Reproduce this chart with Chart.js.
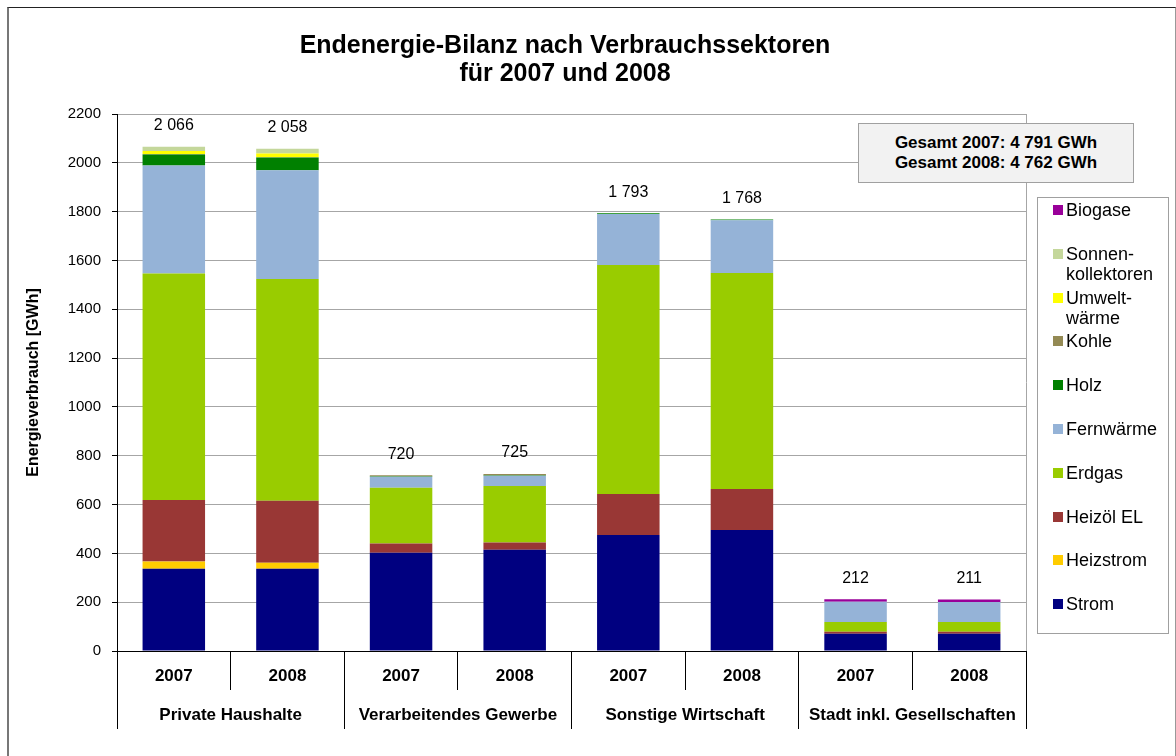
<!DOCTYPE html>
<html>
<head>
<meta charset="utf-8">
<script src="https://cdn.jsdelivr.net/npm/chart.js@4"></script>
<style>
    body { margin: 0; background: #fff; font-family: "Liberation Sans", Arial, sans-serif; }
    #wrap { position: relative; width: 1176px; height: 756px; overflow: hidden; }
    #frame { position: absolute; left: 7px; top: 7px; width: 1166px; height: 800px;
             border-top: 1px solid #222; border-left: 2px solid #777; border-right: 1px solid #999; }
    #title { position: absolute; left: 0; top: 30px; width: 1130px; text-align: center;
             font-weight: bold; font-size: 25px; line-height: 28px; color: #000; }
    #total { position: absolute; left: 858px; top: 123px; width: 274px; height: 58px;
             background: #f2f2f2; border: 1px solid #a0a0a0; text-align: center;
             font-weight: bold; font-size: 17px; line-height: 20px; }
    #total div:first-child { margin-top: 9px; }
    #legend { position: absolute; left: 1037px; top: 197px; width: 130px; height: 435px;
              border: 1px solid #a0a0a0; background: #fff; }
    .item { position: absolute; left: 0; font-size: 18px; line-height: 20px; }
    .item span.sw { position: absolute; left: 15px; top: 5px; width: 10px; height: 10px; }
    .item span.tx { position: absolute; left: 28px; top: 0; white-space: pre; }
</style>
</head>
<body>
<div id="wrap">
    <canvas id="chart" width="1176" height="756"></canvas>
    <div id="frame"></div>
    <div id="title">Endenergie-Bilanz nach Verbrauchssektoren<br>für 2007 und 2008</div>
    <div id="total"></div>
    <div id="legend"></div>
</div>
<script>
    /* Categories */
    const years = ['2007', '2008', '2007', '2008', '2007', '2008', '2007', '2008'];
    const groups = ['Private Haushalte', 'Verarbeitendes Gewerbe', 'Sonstige Wirtschaft', 'Stadt inkl. Gesellschaften'];

    /* Series values in GWh, bottom to top */
    const strom      = [337, 337, 403, 415, 475, 496, 71, 71];
    const heizstrom  = [30, 25, 0, 0, 0, 0, 0, 0];
    const heizoel    = [252, 254, 37, 30, 168, 168, 8, 8];
    const erdgas     = [928, 908, 229, 231, 938, 885, 40, 40];
    const fernwaerme = [442, 446, 45, 42, 209, 216, 83, 82];
    const holz       = [45, 52, 2, 2, 3, 3, 0, 0];
    const kohle      = [2, 1, 4, 5, 0, 0, 0, 0];
    const umwelt     = [12, 15, 0, 0, 0, 0, 0, 0];
    const sonnen     = [18, 20, 0, 0, 0, 0, 0, 0];
    const biogase    = [0, 0, 0, 0, 0, 0, 10, 10];

    /* Y axis ticks */
    const yMax = 2200;
    const yStep = 200;

    const series = [
        { label: 'Strom', legend: 'Strom', data: strom, color: '#000080' },
        { label: 'Heizstrom', legend: 'Heizstrom', data: heizstrom, color: '#FFCC00' },
        { label: 'Heizöl EL', legend: 'Heizöl EL', data: heizoel, color: '#993735' },
        { label: 'Erdgas', legend: 'Erdgas', data: erdgas, color: '#99CC00' },
        { label: 'Fernwärme', legend: 'Fernwärme', data: fernwaerme, color: '#95B3D7' },
        { label: 'Holz', legend: 'Holz', data: holz, color: '#008000' },
        { label: 'Kohle', legend: 'Kohle', data: kohle, color: '#948A54' },
        { label: 'Umweltwärme', legend: 'Umwelt-\nwärme', data: umwelt, color: '#FFFF00' },
        { label: 'Sonnenkollektoren', legend: 'Sonnen-\nkollektoren', data: sonnen, color: '#C4D79B' },
        { label: 'Biogase', legend: 'Biogase', data: biogase, color: '#990099' },
    ];

    const fmt = (n) => String(n).replace(/\B(?=(\d{3})+(?!\d))/g, ' ');
    const totals = years.map((_, i) => series.reduce((s, d) => s + d.data[i], 0));

    /* Gesamt box */
    const sum2007 = totals.filter((_, i) => years[i] === '2007').reduce((a, b) => a + b, 0);
    const sum2008 = totals.filter((_, i) => years[i] === '2008').reduce((a, b) => a + b, 0);
    document.getElementById('total').innerHTML =
        '<div>Gesamt 2007: ' + fmt(sum2007) + ' GWh</div><div>Gesamt 2008: ' + fmt(sum2008) + ' GWh</div>';

    /* Legend, top item is the top stack */
    const legendEl = document.getElementById('legend');
    series.slice().reverse().forEach((s, i) => {
        const item = document.createElement('div');
        item.className = 'item';
        item.style.top = (2 + i * 43.8) + 'px';
        item.innerHTML = '<span class="sw" style="background:' + s.color + '"></span><span class="tx"></span>';
        item.querySelector('.tx').textContent = s.legend;
        legendEl.appendChild(item);
    });

    // totals above the bars and the right edge of the plot area
    const extras = {
        id: 'extras',
        afterDatasetsDraw(chart) {
            const { ctx, chartArea, scales } = chart;
            ctx.save();
            ctx.strokeStyle = '#a6a6a6';
            ctx.lineWidth = 1;
            ctx.beginPath();
            ctx.moveTo(chartArea.right + 0.5, chartArea.top);
            ctx.lineTo(chartArea.right + 0.5, chartArea.bottom);
            ctx.stroke();
            ctx.fillStyle = '#000';
            ctx.font = '16px "Liberation Sans", Arial';
            ctx.textAlign = 'center';
            ctx.textBaseline = 'middle';
            totals.forEach((t, i) => {
                const x = scales.x.getPixelForValue(i);
                const y = scales.y.getPixelForValue(t);
                ctx.fillText(fmt(t), x, y - 21);
            });
            ctx.restore();
        },
    };

    const tickFont = { family: '"Liberation Sans", Arial', size: 17, weight: 'bold' };

    new Chart(document.getElementById('chart'), {
        type: 'bar',
        data: {
            labels: years,
            datasets: series.map((s) => ({
                label: s.label,
                data: s.data,
                backgroundColor: s.color,
                borderWidth: 0,
                categoryPercentage: 1,
                barPercentage: 0.55,
            })),
        },
        options: {
            responsive: false,
            animation: false,
            layout: { padding: { left: 8, right: 150, top: 114, bottom: 27 } },
            plugins: {
                legend: { display: false },
                title: { display: false },
                tooltip: { enabled: false },
            },
            scales: {
                x: {
                    stacked: true,
                    grid: { offset: true, drawOnChartArea: false, tickLength: 39, color: '#000', tickColor: '#000' },
                    border: { color: '#000' },
                    ticks: { font: tickFont, color: '#000', padding: -24, maxRotation: 0, autoSkip: false },
                    afterFit: (s) => { s.height = 39; },
                },
                x2: {
                    type: 'category',
                    labels: groups,
                    position: 'bottom',
                    grid: { offset: true, drawOnChartArea: false, tickLength: 39, color: '#000', tickColor: '#000' },
                    border: { display: false },
                    ticks: { font: tickFont, color: '#000', padding: -24, maxRotation: 0, autoSkip: false },
                    afterFit: (s) => { s.height = 39; },
                },
                y: {
                    stacked: true,
                    min: 0,
                    max: yMax,
                    grid: { color: '#a6a6a6', tickColor: '#000', tickLength: 5 },
                    border: { color: '#000' },
                    ticks: {
                        stepSize: yStep,
                        color: '#000',
                        padding: 11,
                        font: { family: '"Liberation Sans", Arial', size: 15 },
                        callback: (v) => String(v),
                    },
                    title: {
                        display: true,
                        text: 'Energieverbrauch [GWh]',
                        color: '#000',
                        font: { family: '"Liberation Sans", Arial', size: 16, weight: 'bold' },
                        padding: { top: 16, bottom: 0 },
                    },
                    afterFit: (s) => { s.width = 109; },
                },
            },
        },
        plugins: [extras],
    });
</script>
</body>
</html>
